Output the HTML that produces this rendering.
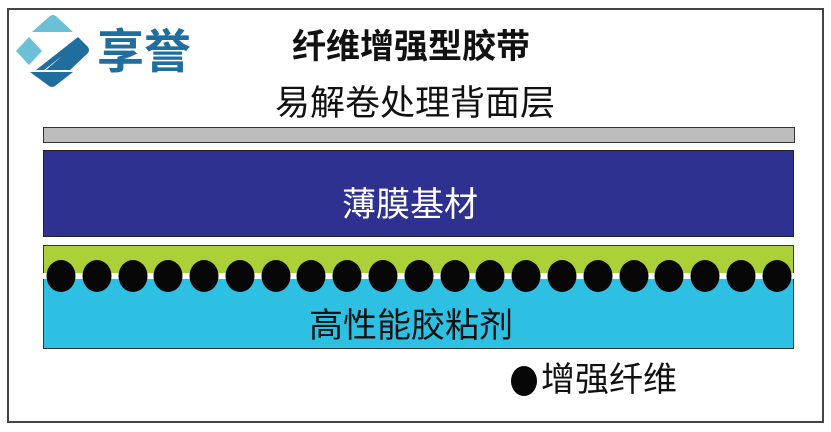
<!DOCTYPE html>
<html><head><meta charset="utf-8"><style>
body{margin:0;width:831px;height:432px;background:#fff;position:relative;overflow:hidden;font-family:"Liberation Sans","Noto Sans CJK SC",sans-serif}
.a{position:absolute}
.t{position:absolute;white-space:nowrap;line-height:1}
</style></head><body>
<div class="a" style="left:7px;top:8px;width:813px;height:411px;border:2px solid #444"></div>
<svg class="a" style="left:0;top:0" width="100" height="100">
<path d="M32,32 L50,16 Q53,14 56,16 L73,32 Z" fill="#6bbfd6"/>
<path d="M16,51 L29,37 L42,51 L29,65 Z" fill="#6bbfd6"/>
<path d="M78,37 L88,47 Q90,50 88,53 L70,70 L46,70 L62,56 L44,70 L36,70 Z" fill="#1f6e9e"/>
<path d="M30,72 L73,72 L55,86 Q52,88 49,86 Z" fill="#1f6e9e"/>
</svg>
<div class="t" style="left:97px;top:28px;font-size:47px;font-weight:bold;color:#1f6e9e">享誉</div>
<div class="t" style="left:292px;top:30px;font-size:34px;font-weight:bold;color:#111">纤维增强型胶带</div>
<div class="t" style="left:275px;top:86px;font-size:35px;color:#111">易解卷处理背面层</div>
<div class="a" style="left:43px;top:127px;width:750px;height:14px;background:#bdbdbd;border:1px solid #333"></div>
<div class="a" style="left:43px;top:150px;width:749px;height:85px;background:#2e3190;border:1px solid #222"></div>
<div class="t" style="left:342px;top:188px;font-size:34px;color:#fff">薄膜基材</div>
<div class="a" style="left:43px;top:245px;width:749px;height:28px;background:#acd037;border:1.5px solid #333;border-bottom:none"></div>
<div class="a" style="left:43px;top:273px;width:751px;height:6px;background:#fff"></div>
<div class="a" style="left:43px;top:279px;width:749px;height:69px;background:#2ec0e2;border:1.5px solid #333;border-top:none"></div>
<div class="t" style="left:309px;top:309px;font-size:34px;color:#111">高性能胶粘剂</div>
<svg class="a" style="left:0;top:0" width="831" height="432">
<g fill="#070707">
<ellipse cx="61" cy="276" rx="14.5" ry="16"/><ellipse cx="97" cy="276" rx="14.5" ry="16"/><ellipse cx="133" cy="276" rx="14.5" ry="16"/><ellipse cx="168" cy="276" rx="14.5" ry="16"/><ellipse cx="204" cy="276" rx="14.5" ry="16"/><ellipse cx="240" cy="276" rx="14.5" ry="16"/><ellipse cx="276" cy="276" rx="14.5" ry="16"/><ellipse cx="311" cy="276" rx="14.5" ry="16"/><ellipse cx="347" cy="276" rx="14.5" ry="16"/><ellipse cx="383" cy="276" rx="14.5" ry="16"/><ellipse cx="419" cy="276" rx="14.5" ry="16"/><ellipse cx="455" cy="276" rx="14.5" ry="16"/><ellipse cx="490" cy="276" rx="14.5" ry="16"/><ellipse cx="526" cy="276" rx="14.5" ry="16"/><ellipse cx="562" cy="276" rx="14.5" ry="16"/><ellipse cx="598" cy="276" rx="14.5" ry="16"/><ellipse cx="634" cy="276" rx="14.5" ry="16"/><ellipse cx="669" cy="276" rx="14.5" ry="16"/><ellipse cx="705" cy="276" rx="14.5" ry="16"/><ellipse cx="741" cy="276" rx="14.5" ry="16"/><ellipse cx="777" cy="276" rx="14.5" ry="16"/>
<ellipse cx="524" cy="381" rx="13" ry="15"/>
</g></svg>
<div class="t" style="left:541px;top:363px;font-size:34px;color:#111">增强纤维</div>
</body></html>
